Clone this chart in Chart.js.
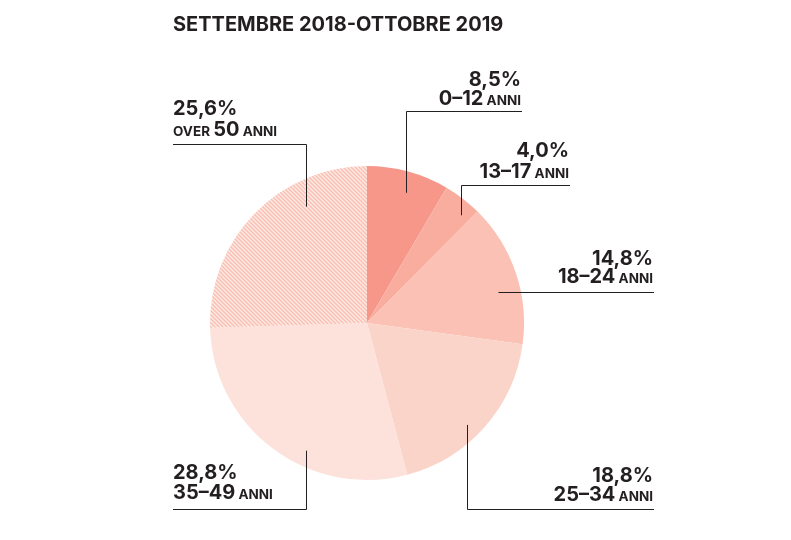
<!DOCTYPE html>
<html>
<head>
<meta charset="utf-8">
<script src="https://cdn.jsdelivr.net/npm/chart.js@4"></script>
<style>
  body { margin: 0; background: #fff; }
</style>
</head>
<body>
<canvas id="pieChart" width="791" height="540"></canvas>
<script>
// Dati: fasce d'età (settembre 2018 - ottobre 2019)
const titolo = 'SETTEMBRE 2018-OTTOBRE 2019';
const fasce = ['0–12', '13–17', '18–24', '25–34', '35–49', '50'];
const prefissi = ['', '', '', '', '', 'OVER '];
const valori = [8.5, 4.0, 14.8, 18.8, 28.8, 25.6];
const colori = ['#f6978a', '#f8ad9f', '#fbc1b4', '#fbd4c9', '#fce2da'];

// Trattini per la fetta "over 50"
function makeHatch() {
    const s = 4;
    const c = document.createElement('canvas');
    c.width = s; c.height = s;
    const g = c.getContext('2d');
    g.fillStyle = '#fdebe6';
    g.fillRect(0, 0, s, s);
    g.strokeStyle = '#fabfb3';
    g.lineWidth = 1.5;
    g.beginPath();
    g.moveTo(-1, -1); g.lineTo(s + 1, s + 1);
    g.moveTo(-1, s - 1); g.lineTo(1, s + 1);
    g.moveTo(s - 1, -1); g.lineTo(s + 1, 1);
    g.stroke();
    return g.createPattern(c, 'repeat');
}

const ink = '#231f20';
const bigFont = '700 20px Inter';
const smallFont = '700 13.5px Inter';

// posizione delle etichette (testo + linee di richiamo)
const etichette = [
    { side: 'right', x: 521, y1: 86, y2: 105, lineY: 111.5, lineEnd: 522, t: 0.55, r: 0.866 },
    { side: 'right', x: 569, y1: 157, y2: 178, lineY: 185.5, lineEnd: 570, t: 0.74, r: 0.91 },
    { side: 'right', x: 653, y1: 265, y2: 283, lineY: 292.5, lineEnd: 654, t: 0.6, r: 0.857, horiz: true },
    { side: 'right', x: 653, y1: 482, y2: 501, lineY: 509.5, lineEnd: 654, t: 0.56, r: 0.91 },
    { side: 'left', x: 173, y1: 479, y2: 499, lineY: 509.5, lineEnd: 173, t: 0.39, r: 0.9 },
    { side: 'left', x: 173, y1: 115, y2: 136, lineY: 144.5, lineEnd: 173, t: 0.70, r: 0.835 }
];

function drawParts(ctx, parts, x, y, side) {
    let w = 0;
    parts.forEach(p => { ctx.font = p[1] ? bigFont : smallFont; w += ctx.measureText(p[0]).width; });
    let cx = side === 'right' ? x - w : x;
    parts.forEach(p => {
        ctx.font = p[1] ? bigFont : smallFont;
        ctx.fillText(p[0], cx, y);
        cx += ctx.measureText(p[0]).width;
    });
}

const labelPlugin = {
    id: 'labelPlugin',
    afterDraw(chart) {
        const ctx = chart.ctx;
        const arcs = chart.getDatasetMeta(0).data;
        ctx.save();
        ctx.fillStyle = ink;
        ctx.textBaseline = 'alphabetic';
        ctx.font = '700 20px Inter';
        ctx.textAlign = 'left';
        ctx.fillText(titolo, 173, 31);

        ctx.strokeStyle = ink;
        ctx.lineWidth = 1;
        etichette.forEach((e, i) => {
            const a = arcs[i];
            const ang = a.startAngle + e.t * (a.endAngle - a.startAngle);
            const ax = Math.round(a.x + Math.cos(ang) * a.outerRadius * e.r) + 0.5;
            const ay = a.y + Math.sin(ang) * a.outerRadius * e.r;
            ctx.beginPath();
            if (e.horiz) {
                ctx.moveTo(ax, e.lineY);
            } else {
                ctx.moveTo(ax, ay);
                ctx.lineTo(ax, e.lineY);
            }
            ctx.lineTo(e.lineEnd, e.lineY);
            ctx.stroke();

            const pct = valori[i].toFixed(1).replace('.', ',') + '%';
            drawParts(ctx, [[pct, 1]], e.x, e.y1, e.side);
            const parts = [];
            if (prefissi[i]) parts.push([prefissi[i], 0]);
            parts.push([fasce[i], 1]);
            parts.push([' ANNI', 0]);
            drawParts(ctx, parts, e.x, e.y2, e.side);
        });
        ctx.restore();
    }
};

const ctxPie = document.getElementById('pieChart').getContext('2d');
const pieChart = new Chart(ctxPie, {
    type: 'pie',
    data: {
        labels: fasce.map((f, i) => prefissi[i] + f + ' anni'),
        datasets: [{
            data: valori,
            backgroundColor: [...colori, makeHatch()],
            borderWidth: 0
        }]
    },
    options: {
        responsive: false,
        animation: false,
        devicePixelRatio: 1,
        layout: {
            padding: { left: 210, right: 267, top: 166, bottom: 60 }
        },
        plugins: {
            legend: { display: false },
            tooltip: { enabled: false }
        }
    },
    plugins: [labelPlugin]
});
</script>
</body>
</html>
